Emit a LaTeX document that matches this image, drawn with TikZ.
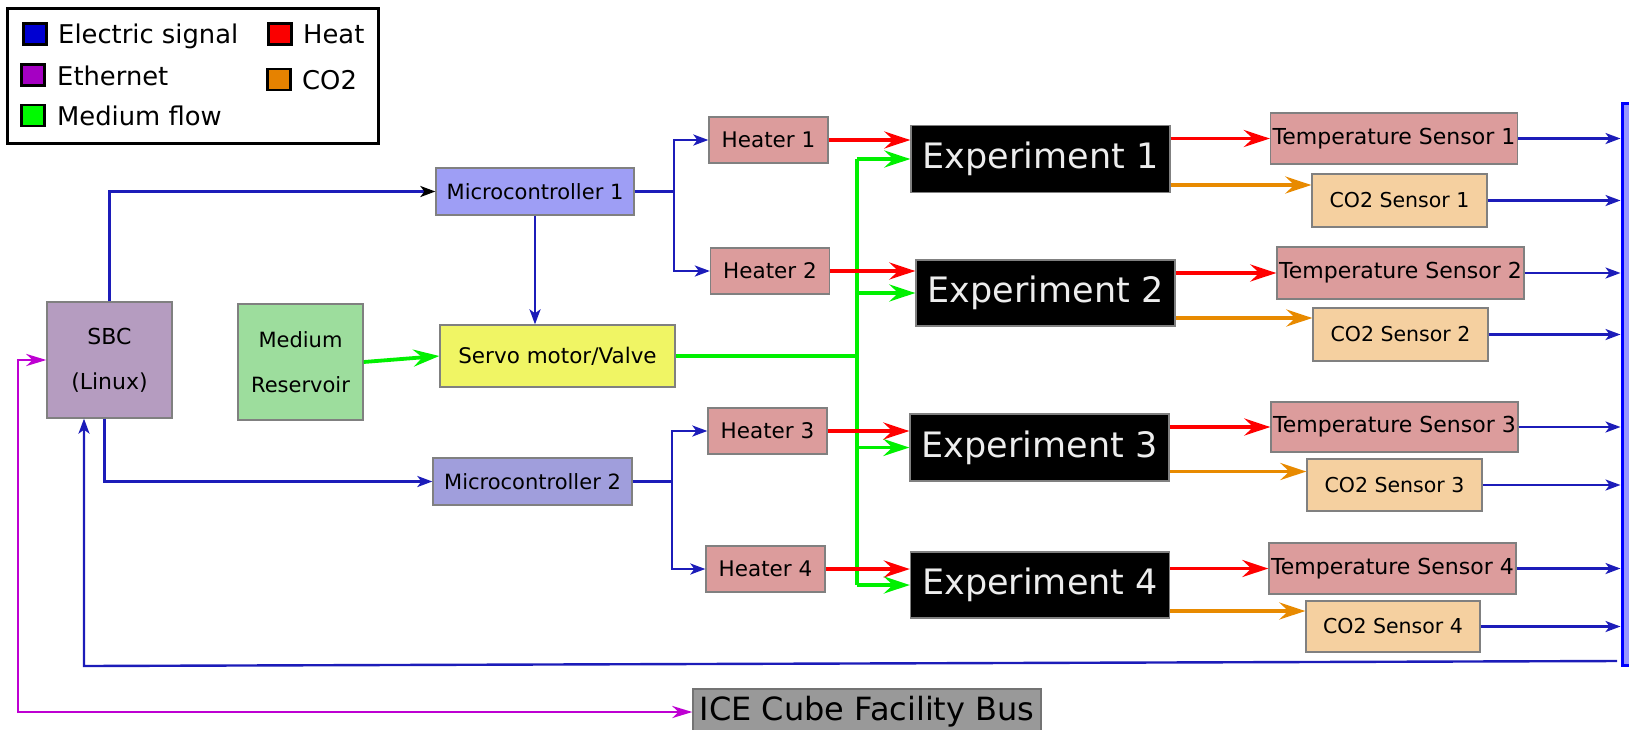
\documentclass[tikz,border=0pt]{standalone}
\usepackage{fontspec}
\setmainfont{DejaVu Sans}
\usetikzlibrary{arrows.meta,calc}

% line colours
\definecolor{sigblue}{RGB}{28,28,185}
\definecolor{ethpurple}{RGB}{190,0,210}
\definecolor{flowgreen}{RGB}{0,240,0}
\definecolor{heatred}{RGB}{255,0,0}
\definecolor{cotwo}{RGB}{232,138,0}
% legend swatches
\definecolor{swblue}{RGB}{0,0,210}
\definecolor{swpurple}{RGB}{165,0,195}
\definecolor{swgreen}{RGB}{0,250,0}
\definecolor{swred}{RGB}{250,0,0}
\definecolor{sworange}{RGB}{230,130,0}
% box fills
\definecolor{sbcfill}{RGB}{181,156,192}
\definecolor{resfill}{RGB}{157,221,157}
\definecolor{mcafill}{RGB}{158,158,245}
\definecolor{mcbfill}{RGB}{160,158,220}
\definecolor{servofill}{RGB}{240,245,100}
\definecolor{heatfill}{RGB}{220,156,156}
\definecolor{cofill}{RGB}{245,208,160}
\definecolor{icefill}{RGB}{153,153,153}
\definecolor{icedraw}{RGB}{115,115,115}
\definecolor{boxgray}{RGB}{128,128,128}
\definecolor{barfill}{RGB}{150,150,255}
\definecolor{bardraw}{RGB}{0,0,255}

\newcommand\fsz[2]{\fontsize{#1}{#2}\selectfont}

\tikzset{
  box/.style={draw=boxgray, line width=1.3pt, inner sep=0pt, align=center, text=black},
  heaterbox/.style={box, fill=heatfill, minimum width=119pt, minimum height=46pt, font=\fsz{21.5}{25}},
  tsbox/.style={box, fill=heatfill, minimum width=247pt, minimum height=51pt, font=\fsz{22}{26}},
  cobox/.style={box, fill=cofill, minimum width=175pt, minimum height=52pt, font=\fsz{20.5}{24}},
  expbox/.style={box, fill=black, text=white!93!black, minimum width=259pt, minimum height=67pt, font=\fsz{35}{40}},
  mcbox/.style={box, minimum width=198pt, minimum height=47pt, font=\fsz{21}{25}},
  swatch/.style={draw=black, line width=2.5pt, minimum width=23pt, minimum height=21pt, inner sep=0pt},
  legtext/.style={anchor=base west, inner sep=0pt, font=\fsz{25.8}{30}},
  sigtip/.tip={Stealth[length=15pt, width=11pt, inset=4pt]},
  bigtip/.tip={Stealth[length=26pt, width=17pt, inset=9pt]},
  ethtip/.tip={Stealth[length=20pt, width=12pt, inset=6pt]},
  sig/.style={draw=sigblue, line width=2.4pt, -sigtip},
  sigline/.style={draw=sigblue, line width=2.4pt},
  heat/.style={draw=heatred, line width=3.8pt, -bigtip},
  flow/.style={draw=flowgreen, line width=3.8pt, -bigtip},
  flowline/.style={draw=flowgreen, line width=3.8pt},
  gas/.style={draw=cotwo, line width=3.8pt, -bigtip},
  eth/.style={draw=ethpurple, line width=2.8pt, ethtip-ethtip},
}

\begin{document}
\begin{tikzpicture}[x=1pt, y=-1pt, line join=miter]
\useasboundingbox (0,0) rectangle (1629,729);

% legend
\node[draw=black, line width=3pt, minimum width=371pt, minimum height=135pt, inner sep=0pt] (legend) at (192.5,75.5) {};
\node[swatch, fill=swblue] (swsig) at (35,34) {};
\node[legtext] (lsig) at (58,43) {Electric signal};
\node[swatch, fill=swpurple] (sweth) at (33,75) {};
\node[legtext] (leth) at (57,85) {Ethernet};
\node[swatch, fill=swgreen] (swflow) at (33,115.5) {};
\node[legtext] (lflow) at (57,125) {Medium flow};
\node[swatch, fill=swred] (swheat) at (280,34) {};
\node[legtext] (lheat) at (303,43) {Heat};
\node[swatch, fill=sworange] (swco) at (279,79.5) {};
\node[legtext] (lco) at (302,89) {CO2};

% control side
\node[box, fill=sbcfill, minimum width=125pt, minimum height=116pt, font=\fsz{22}{45}] (sbc) at (109.5,360) {SBC\\(Linux)};
\node[box, fill=resfill, minimum width=125pt, minimum height=116pt, font=\fsz{21}{45}] (res) at (300.5,362) {Medium\\Reservoir};
\node[mcbox, fill=mcafill] (mca) at (535,191.5) {Microcontroller 1};
\node[mcbox, fill=mcbfill, minimum width=199pt] (mcb) at (532.5,481.5) {Microcontroller 2};
\node[box, fill=servofill, minimum width=235pt, minimum height=62pt, font=\fsz{21.5}{25}] (servo) at (557.5,356) {Servo motor/Valve};

% heaters
\node[heaterbox] (ha) at (768.5,140) {Heater 1};
\node[heaterbox] (hb) at (770,271) {Heater 2};
\node[heaterbox] (hc) at (767.5,431) {Heater 3};
\node[heaterbox] (hd) at (765.5,569) {Heater 4};

% experiments
\node[expbox] (ea) at (1040.5,159) {Experiment 1};
\node[expbox, minimum height=66pt] (eb) at (1045.5,293) {Experiment 2};
\node[expbox] (ec) at (1039.5,447.5) {Experiment 3};
\node[expbox, minimum height=66pt] (ed) at (1040,585) {Experiment 4};

% sensors
\node[tsbox] (ta) at (1394,138.5) {Temperature Sensor 1};
\node[cobox, minimum height=53pt] (ca) at (1399.5,200.5) {CO2 Sensor 1};
\node[tsbox, minimum height=52pt] (tb) at (1400.5,273) {Temperature Sensor 2};
\node[cobox, minimum height=53pt] (cb) at (1400.5,334.5) {CO2 Sensor 2};
\node[tsbox, minimum height=50pt] (tc) at (1394.5,427) {Temperature Sensor 3};
\node[cobox] (cc) at (1394.5,485) {CO2 Sensor 3};
\node[tsbox] (td) at (1392.5,568.5) {Temperature Sensor 4};
\node[cobox, minimum width=174pt, minimum height=51pt] (cd) at (1393,626.5) {CO2 Sensor 4};

% sensor bus bar and facility bus
\node[draw=bardraw, fill=barfill, line width=3pt, minimum width=20pt, minimum height=562pt, inner sep=0pt] (bar) at (1632,384) {};
\node[box, draw=icedraw, fill=icefill, minimum width=348pt, minimum height=46pt, font=\fsz{32}{36}] (ice) at (867,712) {ICE Cube Facility Bus};

% helper points for bus lines
\coordinate (mcabr) at (674,0);
\coordinate (mcbbr) at (672,0);
\coordinate (gbus) at (857,0);
\coordinate (ret) at (1617,661);
\coordinate (retcorner) at (84,666);
\coordinate (ethx) at (18,500);
\coordinate (goa) at ($(ea.east)+(0,26)$);
\coordinate (gob) at ($(eb.east)+(0,25)$);
\coordinate (goc) at ($(ec.east)+(0,24)$);
\coordinate (god) at ($(ed.east)+(0,26)$);

% electric signals
\draw[sigline, -{Stealth[length=15pt, width=11pt, inset=4pt, color=black]}] (sbc.north) |- (mca.west);
\draw[sig] ($(sbc.south)+(-5,0)$) |- (mcb.west);
\draw[sig] (mca.south) -- (mca.south |- servo.north);
\draw[sigline] (mca.east) -- (mca.east -| mcabr);
\draw[sig] (mca.east -| mcabr) |- (ha.west);
\draw[sig] (mca.east -| mcabr) |- (hb.west);
\draw[sigline] (mcb.east) -- (mcb.east -| mcbbr);
\draw[sig] (mcb.east -| mcbbr) |- (hc.west);
\draw[sig] (mcb.east -| mcbbr) |- (hd.west);
\foreach \s in {ta,ca,tb,cb,tc,cc,td,cd}
  \draw[sig] (\s.east) -- (\s.east -| bar.west);
\draw[sig] (ret) -- (retcorner) -- (retcorner |- sbc.south);

% ethernet
\draw[eth] (ice.west) -| (ethx) |- (sbc.west);

% medium flow
\draw[flow] (res.east) -- (servo.west);
\draw[flowline] (servo.east) -- (servo.east -| gbus);
\draw[flowline] (gbus |- ea.west) -- (gbus |- ed.west);
\foreach \e in {ea,eb,ec,ed}
  \draw[flow] (gbus |- \e.west) -- (\e.west);

% heat
\draw[heat] (ha.east) -- (ha.east -| ea.west);
\draw[heat] (hb.east) -- (hb.east -| eb.west);
\draw[heat] (hc.east) -- (hc.east -| ec.west);
\draw[heat] (hd.east) -- (hd.east -| ed.west);
\draw[heat] (ta.west -| ea.east) -- (ta.west);
\draw[heat] (tb.west -| eb.east) -- (tb.west);
\draw[heat] (tc.west -| ec.east) -- (tc.west);
\draw[heat] (td.west -| ed.east) -- (td.west);

% CO2
\draw[gas] (goa) -- (goa -| ca.west);
\draw[gas] (gob) -- (gob -| cb.west);
\draw[gas] (goc) -- (goc -| cc.west);
\draw[gas] (god) -- (god -| cd.west);
\end{tikzpicture}
\end{document}
